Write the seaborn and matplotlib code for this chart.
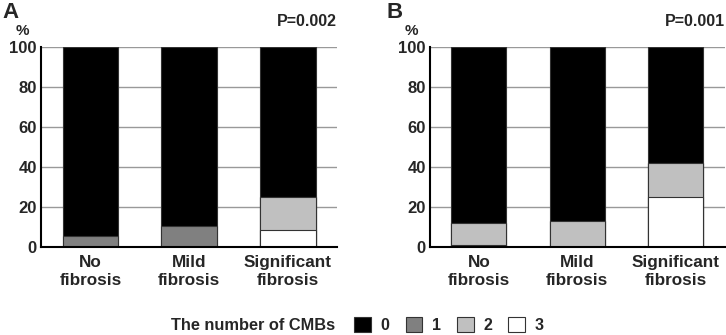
import pandas as pd
import seaborn as sns
import matplotlib.pyplot as plt
from matplotlib.patches import Patch

# categories and CMB levels
groups = ["No\nfibrosis", "Mild\nfibrosis", "Significant\nfibrosis"]
levels = ["0", "1", "2", "3"]

# percentages per CMB count (panel A)
a_cmb0 = [94.5, 89.5, 75.0]
a_cmb1 = [5.5, 10.5, 0.0]
a_cmb2 = [0.0, 0.0, 16.7]
a_cmb3 = [0.0, 0.0, 8.3]

# panel B
b_cmb0 = [88.0, 87.0, 58.3]
b_cmb1 = [0.0, 0.0, 0.0]
b_cmb2 = [11.0, 13.0, 16.7]
b_cmb3 = [1.0, 0.0, 25.0]

p_values = ["P=0.002", "P=0.001"]
panel_letters = ["A", "B"]

colors = {"0": "#000000", "1": "#808080", "2": "#c0c0c0", "3": "#ffffff"}


def stackedFrame(c0, c1, c2, c3):
    # cumulative tops, stacked bottom->top as 3, 2, 1, 0
    df = pd.DataFrame({"group": groups, "0": c0, "1": c1, "2": c2, "3": c3})
    df["top3"] = df["3"]
    df["top2"] = df["top3"] + df["2"]
    df["top1"] = df["top2"] + df["1"]
    df["top0"] = df["top1"] + df["0"]
    return df


def drawPanel(ax, df, pval):
    ax.set_axisbelow(True)
    ax.yaxis.grid(True, color="#999999", linewidth=1.0)
    # draw tallest first, then overlay the lower segments
    for lev in levels:
        sns.barplot(data=df, x="group", y="top" + lev, color=colors[lev],
                    width=0.56, edgecolor="#333333", linewidth=0.8,
                    saturation=1, ax=ax)
    ax.set_ylim(0, 100)
    ax.set_xlim(-0.5, 2.5)
    ax.set_yticks([0, 20, 40, 60, 80, 100])
    ax.set_xlabel("")
    ax.set_ylabel("")
    ax.tick_params(axis="y", length=0, pad=3, labelsize=12)
    ax.tick_params(axis="x", length=0, pad=6, labelsize=12.3)
    for lab in ax.get_xticklabels() + ax.get_yticklabels():
        lab.set_fontweight("bold")
    for s in ["top", "right"]:
        ax.spines[s].set_visible(False)
    for s in ["left", "bottom"]:
        ax.spines[s].set_linewidth(1.5)
        ax.spines[s].set_color("black")
    ax.text(-0.062, 1.078, "%", transform=ax.transAxes, ha="center", va="center",
            fontsize=11, fontweight="bold")
    ax.text(1.0, 1.09, pval, transform=ax.transAxes, ha="right", va="bottom",
            fontsize=11.5, fontweight="bold")


if __name__ == '__main__':
    sns.set_style("white")
    plt.rcParams['font.family'] = ['Liberation Sans', 'DejaVu Sans']

    fig = plt.figure(figsize=(7.26, 3.35), dpi=100)
    ax_a = fig.add_axes([0.0565, 0.263, 0.408, 0.598])
    ax_b = fig.add_axes([0.592, 0.263, 0.406, 0.598])

    drawPanel(ax_a, stackedFrame(a_cmb0, a_cmb1, a_cmb2, a_cmb3), p_values[0])
    drawPanel(ax_b, stackedFrame(b_cmb0, b_cmb1, b_cmb2, b_cmb3), p_values[1])

    fig.text(2 / 726, 1 - 12 / 335, panel_letters[0], ha="left", va="center",
             fontsize=16, fontweight="bold")
    fig.text(387 / 726, 1 - 12 / 335, panel_letters[1], ha="left", va="center",
             fontsize=16, fontweight="bold")

    # legend
    fig.text(171 / 726, 1 - 325 / 335, "The number of CMBs", ha="left", va="center",
             fontsize=11.8, fontweight="bold")
    handles = [Patch(facecolor=colors[l], edgecolor="#333333", linewidth=0.8) for l in levels]
    fig.legend(handles, levels, ncol=4, loc="center left",
               bbox_to_anchor=(340 / 726, 1 - 325 / 335), frameon=False,
               handlelength=1.05, handleheight=1.05, handletextpad=0.6,
               columnspacing=1.0, prop={"weight": "bold", "size": 11.5})

    fig.savefig("out.png", dpi=100)
